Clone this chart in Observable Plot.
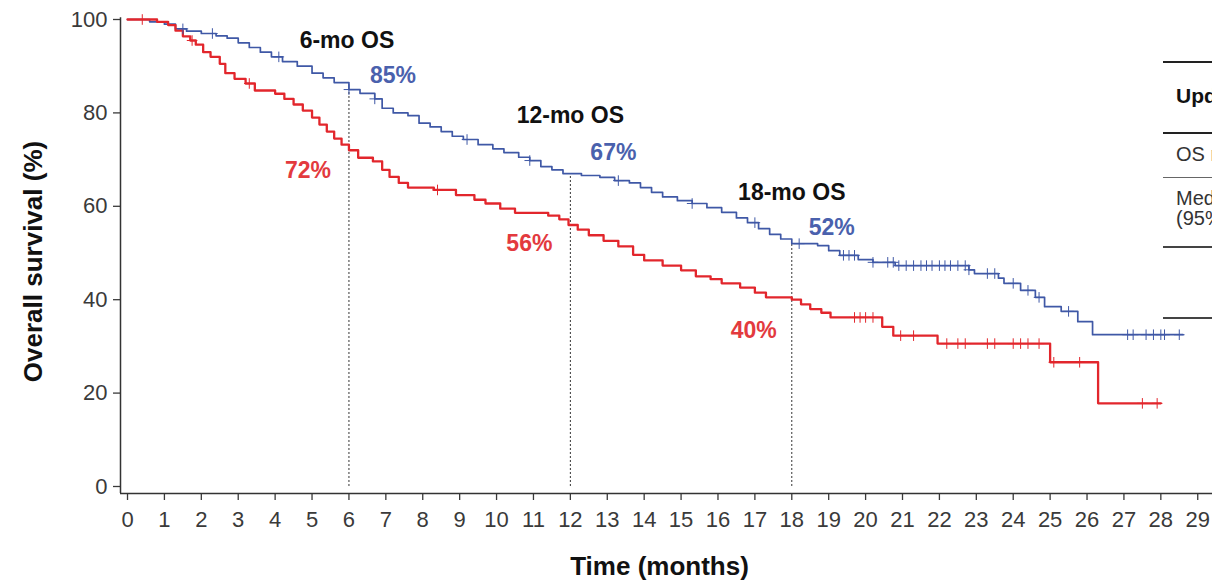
<!DOCTYPE html>
<html><head><meta charset="utf-8">
<script src="https://cdn.jsdelivr.net/npm/d3@7"></script>
<script src="https://cdn.jsdelivr.net/npm/@observablehq/plot@0.6"></script>
<style>
body{margin:0;background:#fff;overflow:hidden;font-family:"Liberation Sans",Arial,sans-serif}
#wrap{position:relative;width:1212px;height:580px;overflow:hidden}
#tbl{position:absolute;left:1163px;top:0;width:300px;height:580px;color:#333}
#tbl .ln{position:absolute;left:0;width:300px;background:#222}
#tbl .tx{position:absolute;left:13px;white-space:nowrap;font-size:20px;line-height:20px}
</style></head>
<body><div id="wrap"><div id="chart"></div>
<div id="tbl">
  <div class="ln" style="top:61px;height:2px"></div>
  <div class="tx" style="top:86px;font-weight:bold;font-size:21px;color:#111">Updated analysis</div>
  <div class="ln" style="top:132px;height:2px"></div>
  <div class="tx" style="top:144px">OS rate</div>
  <div class="ln" style="top:177px;height:1px;background:#666"></div>
  <div class="tx" style="top:188px">Median OS<br>(95% CI), months</div>
  <div class="ln" style="top:246px;height:1.5px;background:#444"></div>
  <div class="ln" style="top:317px;height:1.5px;background:#444"></div>
</div></div>
<script>
// ---- data ----
const blueTime = [0,0.6,1.0,1.3,1.6,2.0,2.4,2.7,3.0,3.3,3.6,3.9,4.2,4.6,5.0,5.3,5.6,6.0,6.3,6.7,6.9,7.2,7.6,7.9,8.2,8.5,8.8,9.1,9.5,9.9,10.2,10.6,10.9,11.2,11.5,11.8,12.3,12.8,13.2,13.6,13.9,14.2,14.5,14.9,15.3,15.7,16.1,16.5,16.8,17.1,17.4,17.7,18.0,18.7,19.0,19.3,19.8,20.2,20.8,22.8,22.95,23.6,23.75,24.2,24.6,24.85,25.3,25.75,26.15,28.6];
const blueSurv = [100,99.5,99,98,97.5,97,96.5,96,95,94,93,92,91,90,88.5,87.5,86.5,85,84.2,83,81,80,79.4,77.8,77,76,75,74.3,73.2,72.3,71.5,70.5,69.8,68.5,67.8,67,66.6,66.2,65.5,65,64,63,62,61.2,60.6,59.7,58.7,57.5,56.5,55.2,54,53,52,51.6,50.5,49.5,48.6,48,47.3,46.4,45.6,44.6,43.5,42,40.5,38.5,37.5,35.3,32.5,32.5];
const redTime = [0,0.8,1.1,1.3,1.5,1.7,1.85,2.05,2.25,2.5,2.65,2.9,3.2,3.45,4.0,4.25,4.5,4.75,5.0,5.2,5.4,5.6,5.8,6.0,6.25,6.65,6.9,7.1,7.35,7.6,8.3,8.9,9.4,9.7,10.1,10.5,11.4,11.7,11.95,12.2,12.5,12.9,13.3,13.7,14.0,14.5,15.0,15.4,15.8,16.1,16.6,17.0,17.3,18.0,18.25,18.5,18.8,19.05,20.45,20.75,21.95,25.0,26.3,28.0];
const redSurv = [100,99.5,98.8,97.6,96.4,95.5,94.6,93,92,90.5,88.5,87.3,86.3,84.8,84.1,83,81.8,80.5,79,77.5,76,74.5,73.2,72,70.4,69.6,67.8,66.3,65,64,63.5,62.4,61.4,60.6,59.5,58.6,58,57.2,56,55,53.8,52.6,51.4,49.6,48.4,47.3,46.3,45,44.4,43.5,42.6,41.5,40.5,40,39,38,37.2,36.2,34.2,32.3,30.6,26.6,17.8,17.8];
const blueCensor = [1.5,2.3,4.1,6.0,6.7,9.2,10.9,13.3,15.3,17.0,18.2,19.4,19.55,19.7,20.2,20.6,20.75,20.9,21.1,21.3,21.5,21.65,21.8,22.0,22.15,22.3,22.5,22.7,22.8,23.3,23.5,24.0,24.4,24.7,25.5,27.1,27.25,27.6,27.8,28.0,28.1,28.5];
const redCensor = [0.4,1.75,3.3,8.4,19.7,19.85,20.0,20.2,20.95,21.3,22.2,22.5,22.7,23.3,23.5,24.0,24.2,24.4,24.7,25.1,25.8,27.5,27.9];
const landmarkMonths = [6,12,18];
const landmarkTitles = ["6-mo OS","12-mo OS","18-mo OS"];
const landmarkBlue = [85,67,52];
const landmarkRed = [72,56,40];
const xTicks = d3.range(0,30);
const yTicks = [0,20,40,60,80,100];
const xTitle = "Time (months)";
const yTitle = "Overall survival (%)";

// ---- styling ----
const blueColor = "#3f58a6", redColor = "#e2262c";
const blueText = "#4a61ad", redText = "#e33a3e";

const blue = blueTime.map((t,i)=>({t, s: blueSurv[i]}));
const red = redTime.map((t,i)=>({t, s: redSurv[i]}));
const stepAt = (times, surv, t) => { let v = surv[0]; for (let i=0;i<times.length;i++){ if (times[i] <= t) v = surv[i]; } return v; };
const blueC = blueCensor.map(t=>({t, s: stepAt(blueTime, blueSurv, t)}));
const redC = redCensor.map(t=>({t, s: stepAt(redTime, redSurv, t)}));

const titleDx=[-2,0,0], titleDy=[-49,-58,-51];
const blueDx=[44,43,40], blueDy=[-14,-21,-16];
const redDx=[-41,-41,-38], redDy=[20,19,31];
const lm = landmarkMonths.map((m,i)=>i);

const textMarks = [];
lm.forEach(i=>{
  textMarks.push(Plot.text([i],{x:landmarkMonths[i], y:landmarkBlue[i], text:()=>landmarkTitles[i], dx:titleDx[i], dy:titleDy[i], fontWeight:"bold", fontSize:23, fill:"#111"}));
  textMarks.push(Plot.text([i],{x:landmarkMonths[i], y:landmarkBlue[i], text:()=>landmarkBlue[i]+"%", dx:blueDx[i], dy:blueDy[i], fontWeight:"bold", fontSize:23, fill:blueText}));
  textMarks.push(Plot.text([i],{x:landmarkMonths[i], y:landmarkRed[i], text:()=>landmarkRed[i]+"%", dx:redDx[i], dy:redDy[i], fontWeight:"bold", fontSize:23, fill:redText}));
});

const chart = Plot.plot({
  width:1212, height:580,
  marginLeft:120, marginRight:0, marginTop:19, marginBottom:87,
  x:{domain:[-0.19,29.4]},
  y:{domain:[-1.5,100]},
  style:{fontFamily:"Liberation Sans, Arial, sans-serif", fontSize:"22px", color:"#3a3a3a", background:"transparent"},
  marks:[
    Plot.axisX({ticks:xTicks, tickSize:7, tickPadding:11, fontSize:22, tickFormat:d=>String(d), label:null, strokeWidth:1.3}),
    Plot.axisY({ticks:yTicks, tickSize:7, tickPadding:6, fontSize:22, label:null, strokeWidth:1.3}),
    Plot.text([xTitle], {frameAnchor:"bottom", textAnchor:"middle", lineAnchor:"middle", dx:-7, dy:73, fontWeight:"bold", fontSize:26, fill:"#111"}),
    Plot.text([yTitle], {frameAnchor:"left", textAnchor:"middle", lineAnchor:"middle", rotate:-90, dx:-87, dy:5, fontWeight:"bold", fontSize:26, fill:"#111"}),
    Plot.ruleY([-1.5], {stroke:"#333", strokeWidth:1.5}),
    Plot.ruleX([-0.19], {y1:-1.5, y2:100.4, stroke:"#333", strokeWidth:1.5}),
    Plot.ruleX(lm, {x:i=>landmarkMonths[i], y1:0, y2:i=>landmarkBlue[i], stroke:"#333", strokeWidth:1, strokeDasharray:"2,2"}),
    Plot.line(blue, {x:"t", y:"s", curve:"step-after", stroke:blueColor, strokeWidth:1.7}),
    Plot.line(red, {x:"t", y:"s", curve:"step-after", stroke:redColor, strokeWidth:2.3}),
    Plot.dot(blueC, {x:"t", y:"s", symbol:"plus", r:3.5, stroke:blueColor, strokeWidth:1}),
    Plot.dot(redC, {x:"t", y:"s", symbol:"plus", r:3.5, stroke:redColor, strokeWidth:1}),
    ...textMarks
  ]
});
document.getElementById("chart").appendChild(chart);
</script>
</body></html>
